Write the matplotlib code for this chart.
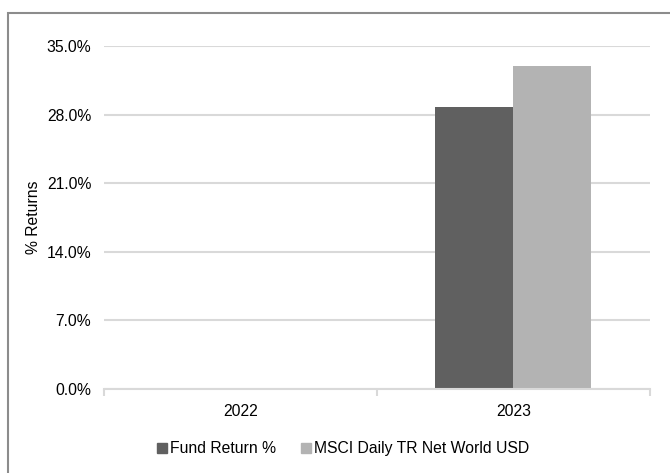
import matplotlib
matplotlib.use("Agg")
import matplotlib.pyplot as plt
import numpy as np
from matplotlib.patches import Rectangle
from matplotlib.ticker import FuncFormatter

plt.rcParams['font.family'] = ['Liberation Sans', 'DejaVu Sans']

# Données
annees = ["2022", "2023"]
fonds = [0.0, 28.8]
msci = [0.0, 33.0]
series = ["Fund Return %", "MSCI Daily TR Net World USD"]
couleurs = ["#606060", "#b3b3b3"]

fs = 11.3

fig = plt.figure(figsize=(6.70, 4.73), dpi=100)
ax = fig.add_axes([0.155, 0.1776, 0.815, 0.7251])

x = np.arange(len(annees))
w = 0.286
ax.bar(x - w / 2, fonds, w, color=couleurs[0], label=series[0], zorder=3)
ax.bar(x + w / 2, msci, w, color=couleurs[1], label=series[1], zorder=3)

ax.set_xlim(-0.5, 1.5)
ax.set_ylim(0, 35)
ax.set_yticks(np.arange(0, 35.1, 7))
ax.yaxis.set_major_formatter(FuncFormatter(lambda v, p: f"{v:.1f}%"))
ax.grid(axis="y", color="#d9d9d9", linewidth=1.5, zorder=0)
ax.tick_params(axis="y", length=0, pad=9, labelsize=fs, labelcolor="#000000")

# axe x avec graduations entre catégories
ax.set_xticks(x)
ax.set_xticklabels(annees)
ax.set_xticks([-0.5, 0.5, 1.5], minor=True)
ax.tick_params(axis="x", which="major", length=0, pad=11, labelsize=fs)
ax.tick_params(axis="x", which="minor", length=5, width=1.5, color="#d9d9d9")

for s in ["top", "right", "left"]:
    ax.spines[s].set_visible(False)
ax.spines["bottom"].set_color("#d9d9d9")
ax.spines["bottom"].set_linewidth(1.5)
ax.spines["bottom"].set_zorder(4)

ax.set_ylabel("% Returns", fontsize=fs, labelpad=4)

# légende
handles = [plt.Line2D([], [], marker="s", linestyle="", markersize=7,
                      color=c) for c in couleurs]
fig.legend(handles, series, loc="center", bbox_to_anchor=(0.51, 0.051),
           ncol=2, frameon=False, fontsize=fs, handletextpad=0.0,
           columnspacing=1.4, handlelength=1.0)

# cadre gris autour
fig.patches.append(Rectangle((8 / 670, -0.1), 1.2, 1 - 13 / 473 + 0.1,
                             transform=fig.transFigure, fill=False,
                             edgecolor="#8c8c8c", linewidth=1.5))

fig.savefig("out.png", dpi=100)
